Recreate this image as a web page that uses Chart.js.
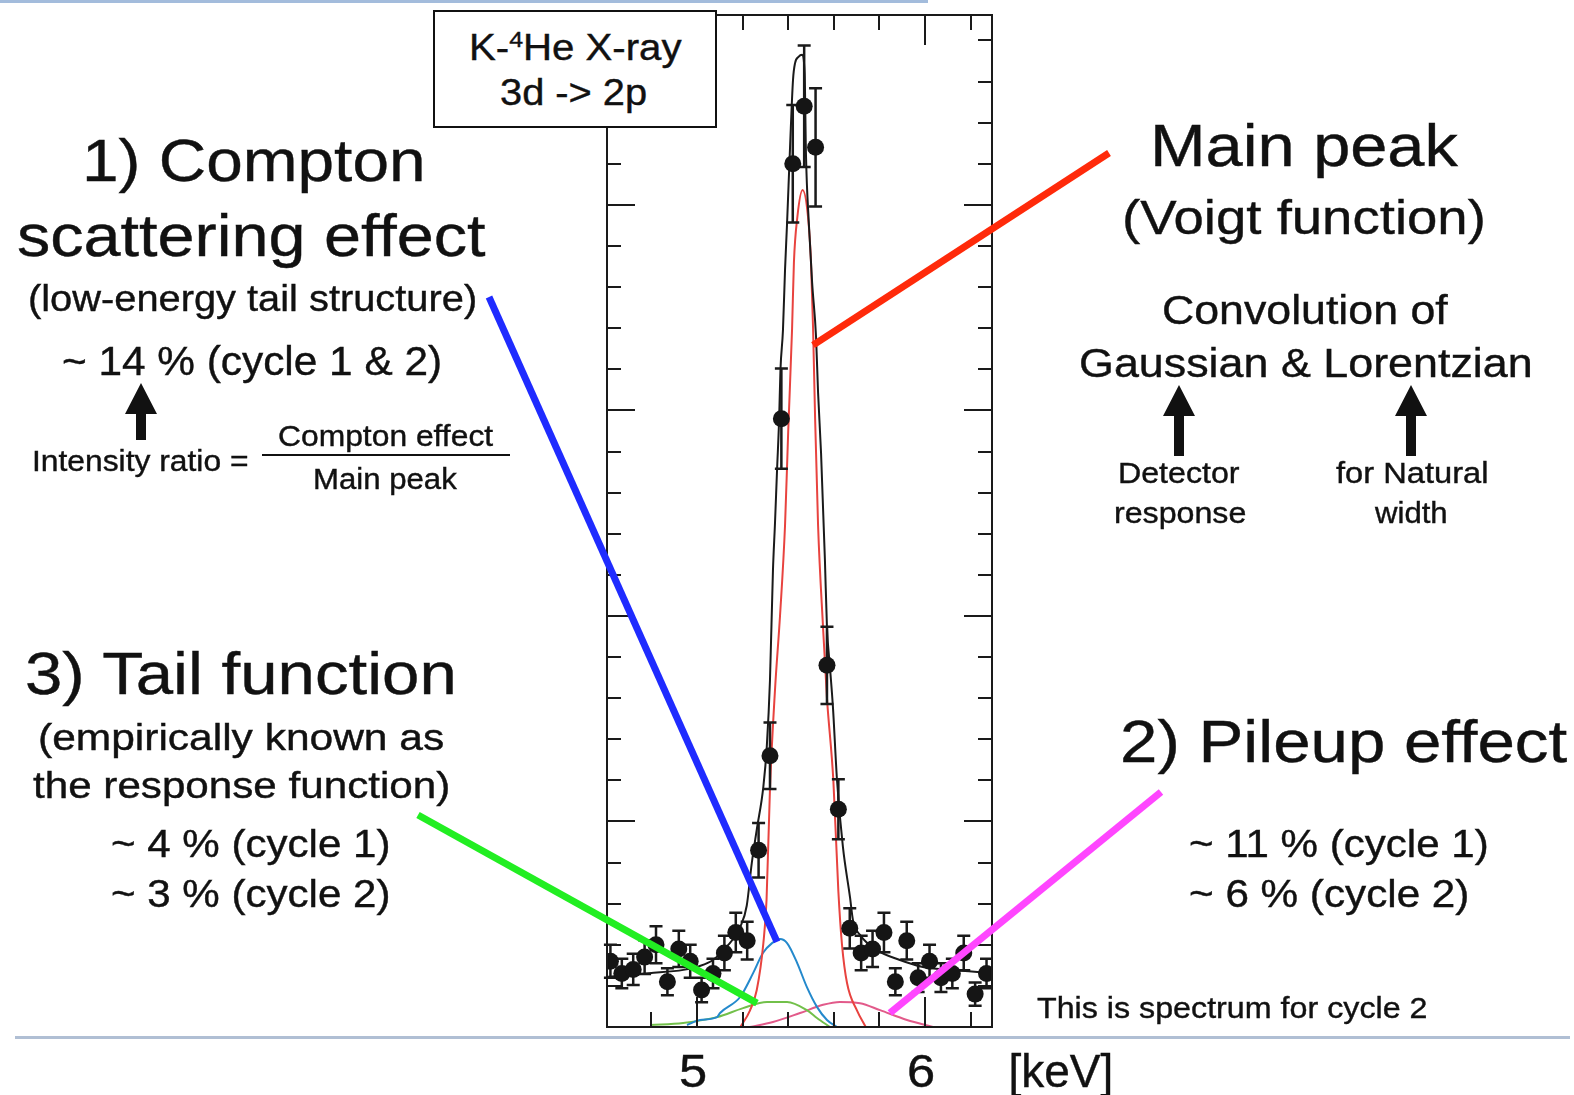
<!DOCTYPE html>
<html>
<head>
<meta charset="utf-8">
<title>K-4He X-ray 3d-2p spectrum</title>
<script src="https://cdn.jsdelivr.net/npm/chart.js@4.4.1/dist/chart.umd.min.js"></script>
<style>
  html, body { margin: 0; padding: 0; background: #fff; }
  #slide { position: relative; width: 1574px; height: 1095px; overflow: hidden;
           font-family: "Liberation Sans", Arial, Helvetica, sans-serif; color: #111; }
  #spec { position: absolute; left: 0; top: 0; }
  .t { position: absolute; white-space: nowrap; line-height: 1; transform-origin: 0 0;
       -webkit-text-stroke: 0.4px #111; }
  .rule { position: absolute; }
  #lbox { position: absolute; left: 433px; top: 10px; width: 280px; height: 114px;
          border: 2px solid #111; background: #fff; }
  .sup { font-size: 0.62em; position: relative; top: -0.55em; }
</style>
</head>
<body>
<div id="slide">
  <canvas id="spec" width="1574" height="1095"></canvas>

  <div class="rule" style="left:0;top:0;width:928px;height:3px;background:#a3bcdc"></div>
  <div class="rule" style="left:15px;top:1036px;width:1555px;height:3px;background:#b0bfd4"></div>

  <div id="lbox"></div>
  <div class="t" style="font-size:36px" data-x="575" data-y="60" data-w="212">K-<span class="sup">4</span>He X-ray</div>
  <div class="t" style="font-size:36px" data-x="573" data-y="105" data-w="147">3d -&gt; 2p</div>

  <!-- left column -->
  <div class="t" style="font-size:60px" data-x="253" data-y="182" data-w="343">1) Compton</div>
  <div class="t" style="font-size:60px" data-x="251" data-y="257" data-w="468">scattering effect</div>
  <div class="t" style="font-size:36px" data-x="252" data-y="311" data-w="449">(low-energy tail structure)</div>
  <div class="t" style="font-size:40px" data-x="252" data-y="375" data-w="380">~ 14 % (cycle 1 &amp; 2)</div>
  <div class="t" style="font-size:29px" data-x="140" data-y="472" data-w="216">Intensity ratio =</div>
  <div class="t" style="font-size:29px" data-x="385" data-y="447" data-w="215">Compton effect</div>
  <div class="t" style="font-size:29px" data-x="385" data-y="490" data-w="144">Main peak</div>

  <div class="t" style="font-size:60px" data-x="241" data-y="695" data-w="432">3) Tail function</div>
  <div class="t" style="font-size:36px" data-x="241" data-y="750" data-w="406">(empirically known as</div>
  <div class="t" style="font-size:36px" data-x="241" data-y="798" data-w="417">the response function)</div>
  <div class="t" style="font-size:38px" data-x="250" data-y="857" data-w="279">~ 4 % (cycle 1)</div>
  <div class="t" style="font-size:38px" data-x="250" data-y="907" data-w="279">~ 3 % (cycle 2)</div>

  <!-- right column -->
  <div class="t" style="font-size:60px" data-x="1304" data-y="167" data-w="308">Main peak</div>
  <div class="t" style="font-size:49px" data-x="1304" data-y="235" data-w="364">(Voigt function)</div>
  <div class="t" style="font-size:40px" data-x="1305" data-y="324" data-w="286">Convolution of</div>
  <div class="t" style="font-size:40px" data-x="1306" data-y="377" data-w="454">Gaussian &amp; Lorentzian</div>
  <div class="t" style="font-size:29px" data-x="1179" data-y="484" data-w="122">Detector</div>
  <div class="t" style="font-size:29px" data-x="1180" data-y="524" data-w="132">response</div>
  <div class="t" style="font-size:29px" data-x="1412" data-y="484" data-w="152">for Natural</div>
  <div class="t" style="font-size:29px" data-x="1411" data-y="524" data-w="73">width</div>

  <div class="t" style="font-size:60px" data-x="1343" data-y="763" data-w="447">2) Pileup effect</div>
  <div class="t" style="font-size:38px" data-x="1339" data-y="857" data-w="300">~ 11 % (cycle 1)</div>
  <div class="t" style="font-size:38px" data-x="1329" data-y="907" data-w="280">~ 6 % (cycle 2)</div>

  <div class="t" style="font-size:30px" data-x="1232" data-y="1018" data-w="390">This is spectrum for cycle 2</div>
  <div class="t" style="font-size:46px" data-x="1061" data-y="1087" data-w="105">[keV]</div>
</div>

<script>
// spectrum (cycle 2): bin centres [keV], counts and their errors
const energy = [4.62, 4.67, 4.72, 4.77, 4.82, 4.87, 4.92, 4.97, 5.02, 5.07, 5.12, 5.17,
  5.22, 5.27, 5.32, 5.37, 5.42, 5.47, 5.52, 5.57, 5.62, 5.67, 5.72, 5.77, 5.82, 5.87,
  5.92, 5.97, 6.02, 6.07, 6.12, 6.17, 6.22, 6.27];
const counts = [16, 13, 14, 17, 20, 11, 19, 16, 9, 13, 18, 23,
  21, 43, 66, 148, 210, 224, 214, 88, 53, 24, 18, 19, 23, 11,
  21, 12, 16, 12, 13, 18, 8, 13];
const countErr = [4.0, 3.6, 3.8, 4.1, 4.5, 3.3, 4.4, 4.0, 3.0, 3.6, 4.2, 4.8,
  4.6, 6.6, 8.1, 12.2, 14.3, 14.8, 14.4, 9.4, 7.3, 4.9, 4.2, 4.4, 4.8, 3.3,
  4.6, 3.5, 4.0, 3.5, 3.6, 4.2, 2.8, 3.6];

// total fit
const fitE = [4.61, 4.79, 4.94, 5.01, 5.07, 5.13, 5.19, 5.218, 5.24, 5.262, 5.291, 5.306,
  5.32, 5.333, 5.342, 5.351, 5.36, 5.366, 5.377, 5.386, 5.395, 5.408, 5.421, 5.43, 5.445,
  5.461, 5.472, 5.478, 5.49, 5.505, 5.522, 5.531, 5.544, 5.561, 5.57, 5.583, 5.596, 5.614,
  5.64, 5.671, 5.684, 5.715, 5.789, 5.89, 5.991, 6.11, 6.29];
const fitY = [12.2, 13.1, 13.9, 14.8, 16.3, 19.5, 24.4, 29.5, 39.8, 48, 58.5, 68.2,
  84.4, 111, 122.6, 135.5, 147.7, 159.9, 169.6, 184.2, 195.6, 214, 230.4, 234.5, 236,
  236.5, 232, 212, 196, 181, 168, 154.3, 139.7, 113.6, 97.3, 87.6, 78, 60.1,
  43.8, 31.6, 26, 22.4, 18.7, 16.3, 14.6, 13.9, 13.1];

// main peak (Voigt)
const voigtE = [5.19, 5.232, 5.262, 5.291, 5.305, 5.32, 5.342, 5.364, 5.386, 5.4, 5.417,
  5.425, 5.44, 5.463, 5.487, 5.5, 5.509, 5.518, 5.531, 5.553, 5.57, 5.598, 5.62, 5.636,
  5.658, 5.702, 5.74];
const voigtY = [0, 4, 9, 20.4, 31, 58, 82, 100, 122, 145, 170,
  186, 197, 203.6, 197, 186, 170, 148, 122, 97, 80, 60, 33, 20,
  10.7, 4, 0];

// Compton (low-energy tail structure)
const comptonE = [4.956, 5.013, 5.088, 5.101, 5.189, 5.246, 5.289, 5.329, 5.364, 5.395,
  5.439, 5.482, 5.526, 5.57, 5.614];
const comptonY = [0.5, 1.7, 2.4, 3.4, 7.3, 13.1, 18.0, 20.4, 21.4, 20.4,
  15.6, 9.7, 4.9, 1.7, 0];

// tail function
const tailE = [4.794, 4.939, 5.088, 5.202, 5.307, 5.395, 5.482, 5.526, 5.583];
const tailY = [0.5, 1.0, 2.4, 4.6, 6.1, 6.1, 4.1, 2.2, 0];

// pileup
const pileE = [5.232, 5.333, 5.452, 5.553, 5.627, 5.715, 5.803, 5.921, 6.035];
const pileY = [0, 1.2, 3.4, 5.4, 6.1, 5.8, 4.1, 1.7, 0];

// x axis ticks (keV) and y ticks (counts)
const xMinor = 0.2, xMajor = 1;
const yMinor = 10, yMajor = 50;

const toXY = (xs, ys) => xs.map((x, i) => ({ x: x, y: ys[i] }));

function curve(label, xs, ys, color, width) {
  return {
    label: label,
    data: toXY(xs, ys),
    showLine: true,
    pointRadius: 0,
    borderColor: color,
    borderWidth: width,
    cubicInterpolationMode: 'monotone',
    order: 2
  };
}

// ROOT-like frame with ticks on all four sides, pointing inwards
const frame = {
  id: 'frame',
  afterDatasetsDraw(chart) {
    const { ctx, chartArea: a, scales } = chart;
    ctx.save();
    ctx.strokeStyle = '#1a1a1a';
    ctx.lineWidth = 2;
    ctx.strokeRect(a.left, a.top, a.right - a.left, a.bottom - a.top);
    ctx.beginPath();
    for (let v = 4.8; v < scales.x.max; v += xMinor) {
      const px = Math.round(scales.x.getPixelForValue(v));
      const major = Math.abs(v - Math.round(v)) < 1e-6;
      const len = major ? 30 : 15;
      ctx.moveTo(px, a.bottom); ctx.lineTo(px, a.bottom - len);
      ctx.moveTo(px, a.top); ctx.lineTo(px, a.top + len);
    }
    for (let v = yMinor; v < scales.y.max; v += yMinor) {
      const py = Math.round(scales.y.getPixelForValue(v));
      const len = v % yMajor === 0 ? 28 : 14;
      ctx.moveTo(a.left, py); ctx.lineTo(a.left + len, py);
      ctx.moveTo(a.right, py); ctx.lineTo(a.right - len, py);
    }
    ctx.stroke();
    ctx.restore();
  }
};

// vertical error bars with small caps under the data markers
const errorBars = {
  id: 'errorBars',
  beforeDatasetDraw(chart, args) {
    if (args.index !== 0) return;
    const { ctx, scales: { x, y } } = chart;
    ctx.save();
    ctx.strokeStyle = '#1a1a1a';
    ctx.lineWidth = 2.5;
    ctx.beginPath();
    energy.forEach((e, i) => {
      const px = x.getPixelForValue(e);
      const top = y.getPixelForValue(counts[i] + countErr[i]);
      const bot = y.getPixelForValue(counts[i] - countErr[i]);
      ctx.moveTo(px, top); ctx.lineTo(px, bot);
      ctx.moveTo(px - 6.5, top); ctx.lineTo(px + 6.5, top);
      ctx.moveTo(px - 6.5, bot); ctx.lineTo(px + 6.5, bot);
    });
    ctx.stroke();
    ctx.restore();
  }
};

// thick pointer lines from the captions into the plot
const pointerLines = [
  { from: [489, 297], to: [5.351, 20.7], color: '#1f2bff' },
  { from: [1109, 153], to: [5.509, 165.9], color: '#ff2a0a' },
  { from: [418, 815], to: [5.263, 5.8], color: '#22ee22' },
  { from: [1161, 792], to: [5.846, 3.4], color: '#ff46ff' }
];

function upArrow(ctx, x, tip, bottom) {
  ctx.beginPath();
  ctx.moveTo(x, tip);
  ctx.lineTo(x + 16, tip + 31);
  ctx.lineTo(x + 5, tip + 31);
  ctx.lineTo(x + 5, bottom);
  ctx.lineTo(x - 5, bottom);
  ctx.lineTo(x - 5, tip + 31);
  ctx.lineTo(x - 16, tip + 31);
  ctx.closePath();
  ctx.fill();
}

const slideArt = {
  id: 'slideArt',
  afterDraw(chart) {
    const { ctx, scales: { x, y } } = chart;
    ctx.save();
    ctx.lineCap = 'butt';
    ctx.lineWidth = 7;
    pointerLines.forEach(p => {
      ctx.strokeStyle = p.color;
      ctx.beginPath();
      ctx.moveTo(p.from[0], p.from[1]);
      ctx.lineTo(x.getPixelForValue(p.to[0]), y.getPixelForValue(p.to[1]));
      ctx.stroke();
    });
    ctx.fillStyle = '#111';
    upArrow(ctx, 141, 383, 440);
    upArrow(ctx, 1179, 385, 456);
    upArrow(ctx, 1411, 385, 456);
    // fraction bar of the intensity ratio
    ctx.strokeStyle = '#111';
    ctx.lineWidth = 2;
    ctx.beginPath();
    ctx.moveTo(262, 455);
    ctx.lineTo(510, 455);
    ctx.stroke();
    ctx.restore();
  }
};

const chart = new Chart(document.getElementById('spec'), {
  type: 'scatter',
  data: {
    datasets: [
      {
        label: 'data',
        data: toXY(energy, counts),
        pointRadius: 8.5,
        pointBackgroundColor: '#151515',
        pointBorderWidth: 0,
        showLine: false,
        order: 0
      },
      curve('total fit', fitE, fitY, '#1a1a1a', 2),
      curve('main peak', voigtE, voigtY, '#e8433f', 2),
      curve('Compton', comptonE, comptonY, '#2489cc', 2),
      curve('tail', tailE, tailY, '#72c04a', 2),
      curve('pileup', pileE, pileY, '#e25a8a', 2)
    ]
  },
  options: {
    responsive: false,
    animation: false,
    layout: { padding: { left: 607, top: 15, right: 582, bottom: 68 } },
    scales: {
      x: { type: 'linear', min: 4.605, max: 6.294, display: false },
      y: { type: 'linear', min: 0, max: 246.2, display: false }
    },
    plugins: { legend: { display: false }, tooltip: { enabled: false } }
  },
  plugins: [frame, errorBars, slideArt]
});

// axis numbers under the frame, placed from the x scale
const slide = document.getElementById('slide');
[5, 6].forEach(v => {
  const d = document.createElement('div');
  d.className = 't';
  d.style.fontSize = '46px';
  d.dataset.x = chart.scales.x.getPixelForValue(v) - 4;
  d.dataset.y = 1087;
  d.textContent = String(v);
  slide.appendChild(d);
});

// captions: centre on data-x, baseline on data-y, stretched to data-w
function placeText() {
  document.querySelectorAll('.t').forEach(el => {
    const fs = parseFloat(el.style.fontSize);
    const w0 = el.offsetWidth;
    const w = el.dataset.w ? +el.dataset.w : w0 * 1.1;
    el.style.left = (el.dataset.x - w / 2) + 'px';
    el.style.top = (el.dataset.y - 0.847 * fs) + 'px';
    el.style.transform = 'scaleX(' + (w / w0) + ')';
  });
}
placeText();
document.fonts.ready.then(placeText);
</script>
</body>
</html>
